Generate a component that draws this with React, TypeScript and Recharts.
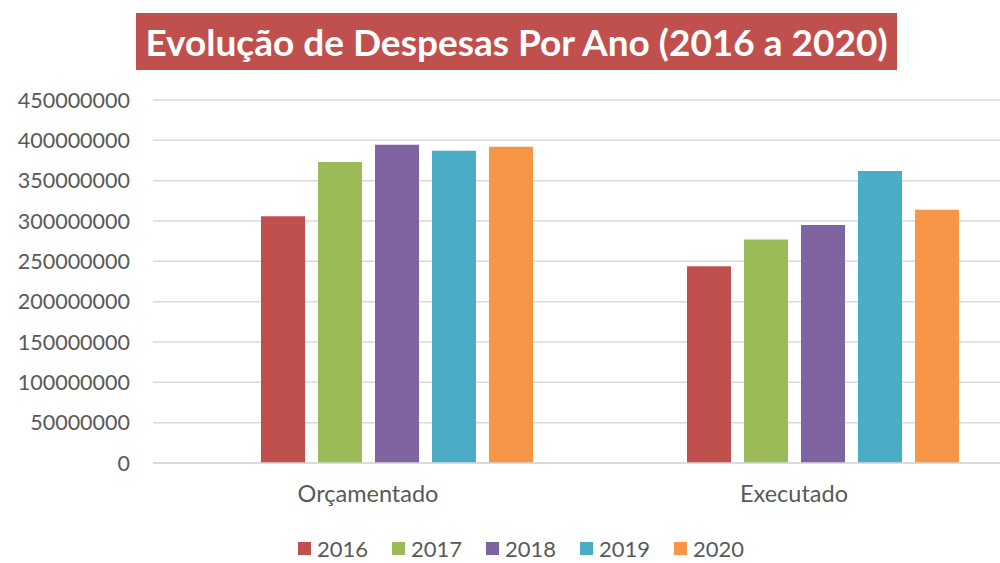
import {BarChart, Bar, XAxis, YAxis, CartesianGrid, Legend} from 'recharts';

const categories = ['Orçamentado', 'Executado'];
const years = ['2016', '2017', '2018', '2019', '2020'];
const values2016 = [306000000, 244000000];
const values2017 = [373000000, 277000000];
const values2018 = [394500000, 295000000];
const values2019 = [387000000, 362000000];
const values2020 = [392000000, 314000000];
const yTicks = [0, 50000000, 100000000, 150000000, 200000000, 250000000, 300000000, 350000000, 400000000, 450000000];

const colors = ['#C0504D', '#9BBB59', '#8064A2', '#4BACC6', '#F79646'];
const seriesValues = [values2016, values2017, values2018, values2019, values2020];

const data = categories.map((name, i) => {
    const row: Record<string, string | number> = {name};
    years.forEach((y, j) => {
        row[y] = seriesValues[j][i];
    });
    return row;
});

const FONT = 'Lato, "Open Sans", sans-serif';

function LegendContent() {
    return (
        <div style={{display: 'flex', justifyContent: 'center', gap: 24, paddingTop: 12, fontFamily: FONT}}>
            {years.map((y, i) => (
                <div key={y} style={{display: 'flex', alignItems: 'center', gap: 6}}>
                    <div style={{width: 13, height: 13, background: colors[i]}}/>
                    <span style={{fontSize: 22, color: '#595959', lineHeight: '27px'}}>{y}</span>
                </div>
            ))}
        </div>
    );
}

export default function App() {
    return (
        <div style={{position: 'relative', width: 1000, height: 563, overflow: 'hidden', background: '#fff'}}>
            <style>{'body{margin:0}'}</style>
            <BarChart
                width={1036}
                height={563}
                data={data}
                margin={{top: 100, right: 0, bottom: 0, left: 0}}
                barSize={44}
                barGap={13}
            >
                <CartesianGrid vertical={false} stroke="#d9d9d9" strokeWidth={1.5}/>
                <XAxis
                    dataKey="name"
                    axisLine={{stroke: '#d9d9d9', strokeWidth: 1.5}}
                    tickLine={false}
                    height={60}
                    padding={{left: 31, right: 0}}
                    tick={{fill: '#595959', fontSize: 23.5, fontFamily: FONT, dx: -29, dy: 14}}
                />
                <YAxis
                    width={153}
                    domain={[0, 450000000]}
                    ticks={yTicks}
                    axisLine={false}
                    tickLine={false}
                    tickSize={0}
                    tickMargin={23}
                    interval={0}
                    tick={{fill: '#595959', fontSize: 21.5, fontFamily: FONT}}
                />
                <Legend
                    verticalAlign="bottom"
                    wrapperStyle={{height: 40, width: 1000, left: 21}}
                    content={<LegendContent/>}
                />
                {years.map((y, i) => (
                    <Bar key={y} dataKey={y} fill={colors[i]} isAnimationActive={false}/>
                ))}
            </BarChart>
            <div
                style={{
                    position: 'absolute',
                    left: 136,
                    top: 13,
                    width: 761,
                    height: 57,
                    background: '#C0504D',
                    color: '#fff',
                    fontFamily: FONT,
                    fontWeight: 700,
                    fontSize: 37,
                    display: 'flex',
                    alignItems: 'center',
                    justifyContent: 'center',
                }}
            >
                Evolução de Despesas Por Ano (2016 a 2020)
            </div>
        </div>
    );
}
